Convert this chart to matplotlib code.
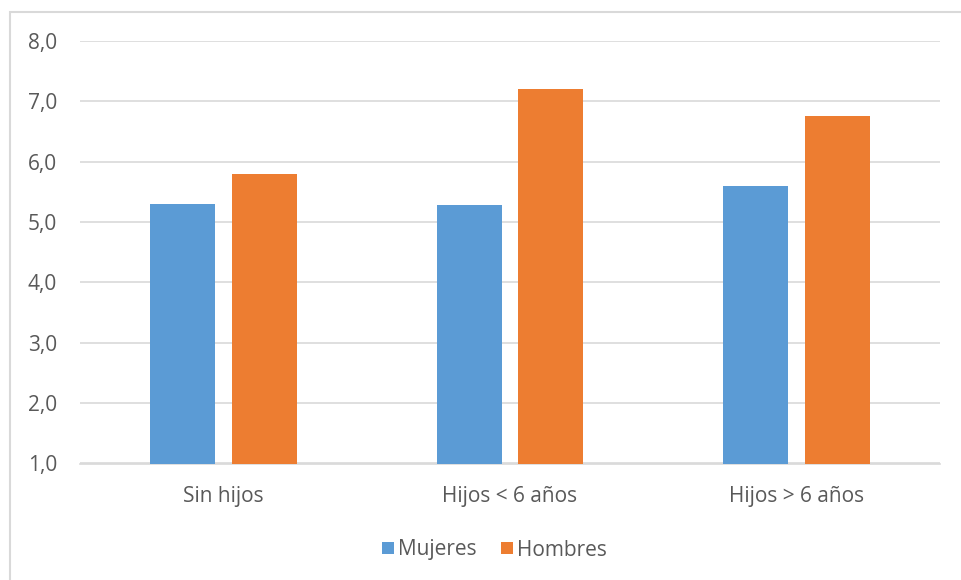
import matplotlib
matplotlib.use("Agg")
import matplotlib.pyplot as plt
from matplotlib.patches import Rectangle
import numpy as np

categories = ["Sin hijos", "Hijos < 6 años", "Hijos > 6 años"]
mujeres = [5.30, 5.29, 5.59]
hombres = [5.80, 7.20, 6.75]
series_names = ["Mujeres", "Hombres"]
yticks = [1, 2, 3, 4, 5, 6, 7, 8]

plt.rcParams["font.family"] = ["Open Sans", "DejaVu Sans"]
text_color = "#595959"
grid_color = "#d9d9d9"
blue = "#5b9bd5"
orange = "#ed7d31"
fs = 15

fig = plt.figure(figsize=(9.61, 5.80), dpi=100)
# chart frame, running off the right and bottom edges
fig.patches.append(Rectangle((9.5 / 961, -10 / 580), 980 / 961, 578 / 580,
                             transform=fig.transFigure, fill=False,
                             edgecolor=grid_color, linewidth=1.5))

ax = fig.add_axes([80 / 961, 1 - 463.5 / 580, 860 / 961, (463.5 - 41) / 580])
x = np.arange(len(categories))
w = 0.227
off = 0.142
ax.bar(x - off, mujeres, width=w, bottom=0, color=blue, label=series_names[0], zorder=3)
ax.bar(x + off, hombres, width=w, bottom=0, color=orange, label=series_names[1], zorder=3)

ax.set_xlim(-0.5, len(categories) - 0.5)
ax.set_ylim(1, 8)
ax.set_yticks(yticks)
ax.set_yticklabels([f"{v:.1f}".replace(".", ",") for v in yticks])
ax.set_xticks(x)
ax.set_xticklabels(categories)
ax.tick_params(axis="both", length=0, labelsize=fs, colors=text_color)
ax.tick_params(axis="y", pad=16.5)
ax.tick_params(axis="x", pad=16)
ax.grid(axis="y", color=grid_color, linewidth=1.2, zorder=0)
for s in ["top", "right", "left"]:
    ax.spines[s].set_visible(False)
ax.spines["bottom"].set_color(grid_color)
ax.spines["bottom"].set_linewidth(1.2)

fig.legend(loc="center", bbox_to_anchor=(494.5 / 961, 1 - 550 / 580), ncol=2, frameon=False,
           fontsize=fs, labelcolor=text_color, handlelength=0.55, handleheight=0.55,
           handletextpad=0.2, columnspacing=1.2)

fig.savefig("out.png", dpi=100, facecolor="white")
